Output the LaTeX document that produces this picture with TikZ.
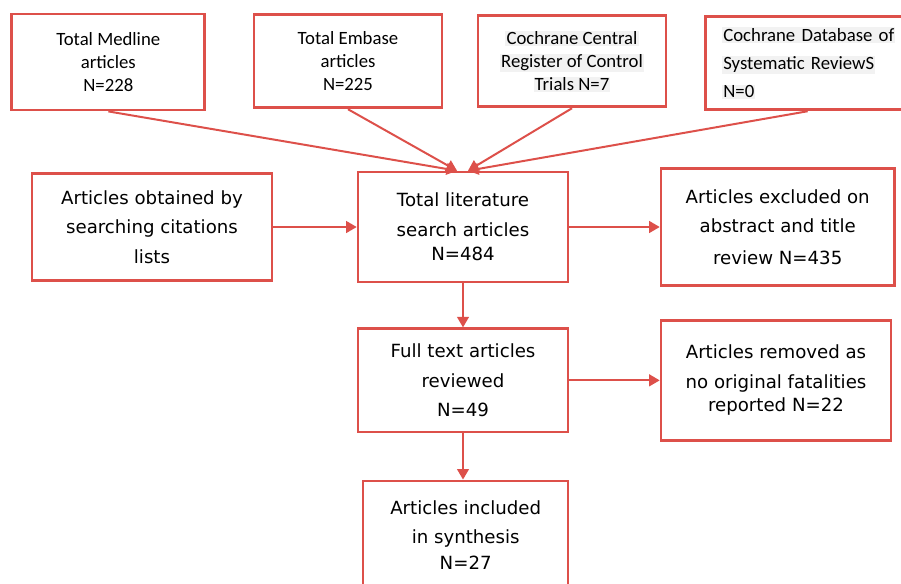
\documentclass[tikz,border=0pt]{standalone}
\usepackage{fontspec}
\setmainfont{DejaVu Sans}
\newfontfamily\carlito{Carlito}
\usetikzlibrary{shapes.geometric, arrows.meta}
\definecolor{boxred}{RGB}{221,80,74}
\definecolor{hlgray}{RGB}{242,242,242}
\setlength{\fboxsep}{1pt}
\newcommand{\greybg}[1]{\colorbox{hlgray}{#1}}
\tikzstyle{source} = [rectangle, minimum width=5.7cm, minimum height=2.8cm, align=center, draw=boxred, line width=2.4pt, text=black, font=\carlito\fontsize{16}{19.6}\selectfont]
\tikzstyle{process} = [rectangle, minimum width=6.3cm, minimum height=3.2cm, align=center, draw=boxred, line width=2.2pt, text=black, font=\fontsize{15.5}{25}\selectfont]
\tikzstyle{arrow} = [draw=boxred, line width=1.7pt, -{Triangle[length=9pt,width=10pt]}]

\begin{document}
\begin{tikzpicture}[x=0.03cm, y=-0.03cm, node distance=4.6cm]
                \path [use as bounding box, clip] (0,0) rectangle (901,583);
                \node (total) [process, minimum height=3.3cm] at (463,227) {Total literature\\search articles\\[-4pt]N=484};
                \node (full) [process, minimum height=3.1cm, below of=total] {Full text articles\\reviewed\\N=49};
                \node (incl) [process, minimum width=6.15cm, minimum height=3.25cm, below of=full, xshift=0.08cm, yshift=-0.04cm] {Articles included\\in synthesis\\[-3pt]N=27};
                \node (cite) [process, minimum width=7.2cm, left of=total, xshift=-4.73cm] {Articles obtained by\\searching citations\\lists};
                \node (excl) [process, minimum width=7cm, minimum height=3.5cm, right of=total, xshift=4.84cm] {Articles excluded on\\abstract and title\\[2pt]review N=435};
                \node (removed) [process, minimum width=6.9cm, minimum height=3.6cm, right of=full, xshift=4.79cm] {Articles removed as\\no original fatalities\\[-5pt]reported N=22};
                \node (medline) [source, minimum width=5.79cm, minimum height=2.88cm, above of=total, xshift=-10.64cm, yshift=0.35cm] {Total Medline\\articles\\N=228};
                \node (embase) [source, minimum width=5.64cm, minimum height=2.79cm, above of=total, xshift=-3.45cm, yshift=0.37cm] {Total Embase\\articles\\N=225};
                \node (central) [source, minimum width=5.64cm, minimum height=2.73cm, above of=total, xshift=3.27cm, yshift=0.37cm] {\greybg{Cochrane Central}\\\greybg{Register of Control}\\\greybg{Trials N=7}};
                \node (database) [source, align=left, text width=5.13cm, inner xsep=0.51cm, minimum height=2.79cm, above of=total, xshift=10.34cm, yshift=0.31cm, font=\carlito\fontsize{16}{24}\selectfont] {\greybg{Cochrane Database of}\\\greybg{Systematic ReviewS}\\\greybg{N=0}};
                \coordinate (inl) at ([xshift=-0.18cm]total.north);
                \coordinate (inr) at ([xshift=0.15cm]total.north);

                \draw [arrow] (medline.south) -- (inl);
                \draw [arrow] (embase.south) -- (inl);
                \draw [arrow] (central.south) -- (inr);
                \draw [arrow] (database.south) -- (inr);
                \draw [arrow] (cite) -- (total);
                \draw [arrow] (total) -- (excl);
                \draw [arrow] (total) -- (full);
                \draw [arrow] (full) -- (removed);
                \draw [arrow] (full.south) -- (full.south |- incl.north);
            \end{tikzpicture}
\end{document}
